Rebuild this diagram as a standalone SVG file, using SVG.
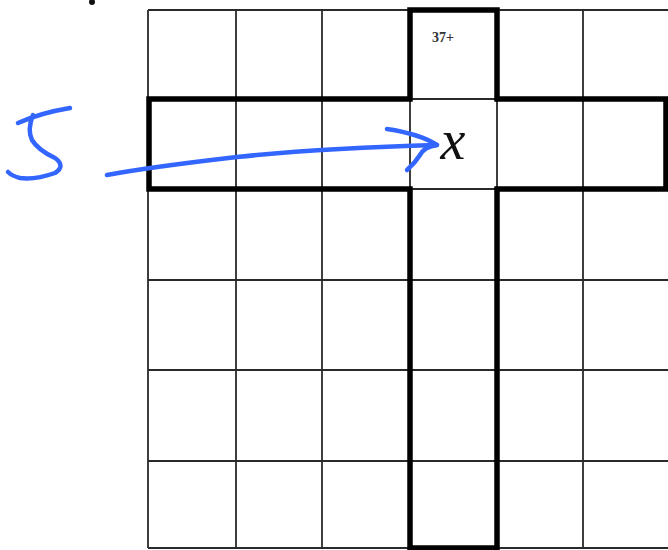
<svg xmlns="http://www.w3.org/2000/svg" width="668" height="550" viewBox="0 0 668 550">
<style>
.thin{stroke:#2a2a2a;stroke-width:1.8;fill:none}
.thick{stroke:#000;stroke-width:5.5;fill:none;stroke-linejoin:miter}
.ink{stroke:#3366ff;stroke-width:4.5;fill:none;stroke-linecap:round;stroke-linejoin:round}
</style>
<rect width="668" height="550" fill="#fff"/>
<g id="grid">
<path class="thin" d="M148,10V548M236,10V548M322,10V548M410,10V548M497,10V548M583,10V548M148,10H668M148,99H668M148,189H668M148,280H668M148,370H668M148,461H668M148,548H668"/>
</g>
<g id="cage">
<path class="thick" d="M410,10H497V99H666V189H497V548H410V189H149V99H410Z"/>
</g>
<g id="dot"><circle cx="92" cy="2" r="3" fill="#111"/></g>
<g id="clue"><text x="443" y="42" font-family="Liberation Serif, serif" font-size="14" font-weight="bold" fill="#333" text-anchor="middle">37+</text></g>
<g id="cell-x"><text x="453" y="159" font-family="Liberation Serif, serif" font-style="italic" font-size="56" fill="#111" text-anchor="middle">x</text></g>
<g id="five"><path class="ink" d="M18,123 Q40,113 70,108 M33,115 Q27,130 32,140 Q38,150 55,158 Q66,166 55,173 Q35,180 20,178 Q12,176 8,172"/></g>
<g id="connectors">
<path class="ink" d="M107,175 Q150,167 237,157 Q323,148 437,145"/>
<path class="ink" d="M387,129 Q420,134 437,145 Q424,147 420,155 Q415,163 407,170"/>
</g>
</svg>
